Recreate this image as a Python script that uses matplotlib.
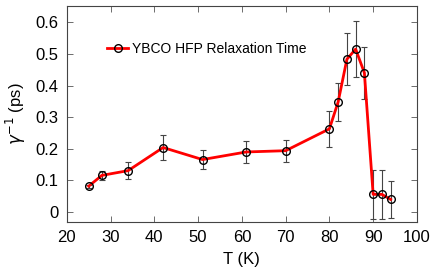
import numpy as np
import matplotlib.pyplot as plt

plt.rcParams['font.family'] = ['Liberation Sans', 'DejaVu Sans']
plt.rcParams['mathtext.fontset'] = 'dejavusans'

# data
T = [25, 28, 34, 42, 51, 61, 70, 80, 82, 84, 86, 88, 90, 92, 94]
gamma_inv = [0.082, 0.116, 0.131, 0.204, 0.166, 0.190, 0.194, 0.263, 0.348,
             0.483, 0.515, 0.440, 0.056, 0.056, 0.040]
err = [0.005, 0.014, 0.028, 0.040, 0.030, 0.034, 0.035, 0.057, 0.060,
       0.082, 0.088, 0.083, 0.077, 0.077, 0.059]
xticks = [20, 30, 40, 50, 60, 70, 80, 90, 100]
yticks = [0, 0.1, 0.2, 0.3, 0.4, 0.5, 0.6]

fig = plt.figure(figsize=(4.37, 2.76), dpi=100)
ax = fig.add_axes([0.153, 0.196, 0.801, 0.782])

ax.errorbar(T, gamma_inv, yerr=err, fmt='none', ecolor='#444444',
            elinewidth=0.8, capsize=2.5, capthick=0.8, zorder=2)
ax.plot(T, gamma_inv, color='red', linewidth=2.0, marker='o', markersize=5.5,
        markerfacecolor='none', markeredgecolor='black', markeredgewidth=1.0,
        label='YBCO HFP Relaxation Time', zorder=3)

ax.set_xlim(20, 100)
ax.set_ylim(-0.031, 0.651)
ax.set_xticks(xticks)
ax.set_yticks(yticks)
ax.set_yticklabels(['0', '0.1', '0.2', '0.3', '0.4', '0.5', '0.6'])
ax.tick_params(direction='in', top=True, right=True, length=4, width=0.6,
               color='#555555', labelsize=12, pad=6)
for s in ax.spines.values():
    s.set_color('#444444')
    s.set_linewidth(0.8)

ax.set_xlabel('T (K)', fontsize=12, labelpad=5)
ax.set_ylabel(r'$\gamma^{-1}$ (ps)', fontsize=12, labelpad=5)

ax.legend(loc='upper left', bbox_to_anchor=(0.08, 0.89), frameon=False,
          fontsize=10, handlelength=1.5, handletextpad=0.3)

fig.savefig('out.png', dpi=100)
